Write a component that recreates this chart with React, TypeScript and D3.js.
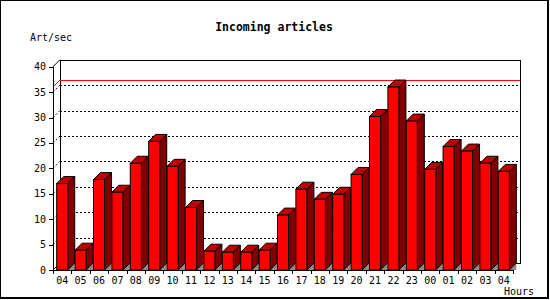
import React from "react";
import * as d3 from "d3";

const hours = ["04","05","06","07","08","09","10","11","12","13","14","15","16","17","18","19","20","21","22","23","00","01","02","03","04"];
const rates = [17, 3.9, 17.8, 15.3, 21, 25.3, 20.4, 12.3, 3.7, 3.5, 3.5, 3.9, 10.8, 15.9, 13.9, 14.9, 18.8, 30.2, 36, 29.3, 19.8, 24.3, 23.4, 21, 19.4];
const yTicks = [0, 5, 10, 15, 20, 25, 30, 35, 40];
const title = "Incoming articles";
const yTitle = "Art/sec";
const xTitle = "Hours";

const W = 550, H = 300;
const left = 53, right = 513, bottom = 270, top = 66.7;
const DX = 7, DY = 7;
const mono = "'DejaVu Sans Mono', monospace";

export default function App() {
  const x = d3.scaleBand<number>().domain(d3.range(hours.length)).range([left, right]).paddingInner(0).paddingOuter(0);
  const y = d3.scaleLinear().domain([0, 40]).range([bottom, top]);
  const bw = x.bandwidth() * 0.6;
  const maxV = d3.max(rates) as number;
  const r = (v: number) => Math.round(v) + 0.5;
  const bx0 = left + DX, bx1 = right + DX;

  return (
    <svg width={W} height={H} style={{ position: "absolute", left: 0, top: 0, background: "#fff" }}>
      <rect x={0} y={0} width={548} height={298} fill="#fff" stroke="#000" strokeWidth={2} />
      <text x={274} y={31} textAnchor="middle" fontFamily={mono} fontWeight="bold" fontSize={11.5}>{title}</text>
      <text x={30} y={41} fontFamily={mono} fontSize={10}>{yTitle}</text>
      <text x={534} y={295} textAnchor="end" fontFamily={mono} fontSize={10}>{xTitle}</text>

      {/* back plane */}
      <rect x={r(bx0)} y={r(y(40) - DY)} width={Math.round(bx1 - bx0)} height={Math.round(y(0) - y(40))} fill="#fff" stroke="#000" />
      {/* grid lines */}
      {yTicks.filter(t => t > 0 && t < 40).map(t => (
        <g key={t}>
          <line x1={left} y1={y(t)} x2={bx0} y2={y(t) - DY} stroke="#000" strokeDasharray="2,2" />
          <line x1={bx0} y1={r(y(t) - DY)} x2={bx1} y2={r(y(t) - DY)} stroke="#000" strokeDasharray="2,2" />
        </g>
      ))}
      {/* max line */}
      <line x1={left} y1={y(maxV)} x2={bx0} y2={y(maxV) - DY} stroke="#f00" />
      <line x1={bx0} y1={r(y(maxV) - DY)} x2={bx1} y2={r(y(maxV) - DY)} stroke="#f00" />

      {/* left wall edges */}
      <line x1={left} y1={y(40)} x2={bx0} y2={y(40) - DY} stroke="#000" />
      <line x1={left} y1={y(0)} x2={bx0} y2={y(0) - DY} stroke="#000" />

      {/* bars */}
      {rates.map((v, i) => {
        const x1 = (x(i) as number) + (x.bandwidth() - bw) / 2;
        const x2 = x1 + bw;
        const yt = y(v), yb = y(0);
        return (
          <g key={i} stroke="#000" strokeWidth={1}>
            <polygon points={`${x2},${yb} ${x2 + DX},${yb - DY} ${x2 + DX},${yb}`} fill="#8c8c8c" stroke="none" />
            <polygon points={`${x2},${yt} ${x2 + DX},${yt - DY} ${x2 + DX},${yb - DY} ${x2},${yb}`} fill="#800000" />
            <polygon points={`${x1},${yt} ${x1 + DX},${yt - DY} ${x2 + DX},${yt - DY} ${x2},${yt}`} fill="#c00000" />
            <rect x={x1} y={yt} width={bw} height={yb - yt} fill="#ff0000" />
          </g>
        );
      })}

      {/* axes */}
      <line x1={r(left)} y1={y(40)} x2={r(left)} y2={bottom + 0.5} stroke="#000" />
      <line x1={left} y1={r(bottom)} x2={right} y2={r(bottom)} stroke="#000" />
      {yTicks.map(t => (
        <g key={t}>
          <line x1={left - 4} y1={r(y(t))} x2={left} y2={r(y(t))} stroke="#000" />
          <text x={46} y={y(t) + 3.5} textAnchor="end" fontFamily={mono} fontSize={10}>{t}</text>
        </g>
      ))}
      {d3.range(hours.length + 1).map(i => {
        const xx = r(left + i * x.bandwidth());
        return <line key={i} x1={xx} y1={bottom} x2={xx} y2={bottom + 4} stroke="#000" />;
      })}
      {hours.map((h, i) => (
        <text key={i} x={(x(i) as number) + x.bandwidth() / 2} y={284} textAnchor="middle" fontFamily={mono} fontSize={10}>{h}</text>
      ))}
    </svg>
  );
}
